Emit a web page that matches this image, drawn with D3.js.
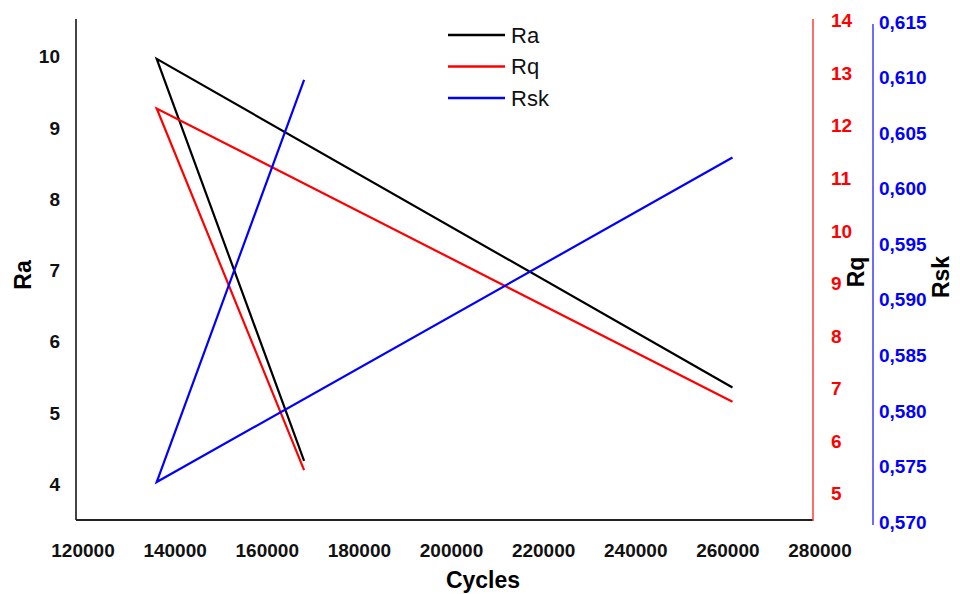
<!DOCTYPE html>
<html lang="en">
<head>
  <meta charset="UTF-8">
  <title>Ra, Rq, Rsk vs Cycles</title>
  <script src="https://d3js.org/d3.v7.min.js"></script>
  <style>
    body { margin: 0; background: #fff; }
    svg { font-family: "Liberation Sans", Arial, sans-serif; }
    .tick-lbl { font-weight: bold; font-size: 19px; }
    .ttl { font-weight: bold; font-size: 23px; }
    .leg { font-size: 22px; }
  </style>
</head>
<body>
  <svg width="960" height="594"></svg>

  <script>
    // data (points joined in this order)
    const cycles = [168000, 136000, 261000];
    const ra  = [4.33, 9.97, 5.36];
    const rq  = [5.45, 12.33, 6.75];
    const rsk = [0.6098, 0.5736, 0.6028];

    const xTicks   = [120000, 140000, 160000, 180000, 200000, 220000, 240000, 260000, 280000];
    const raTicks  = [4, 5, 6, 7, 8, 9, 10];
    const rqTicks  = [5, 6, 7, 8, 9, 10, 11, 12, 13, 14];
    const rskTicks = [0.570, 0.575, 0.580, 0.585, 0.590, 0.595, 0.600, 0.605, 0.610, 0.615];

    const series = [
      { name: 'Ra',  values: ra,  color: '#000000' },
      { name: 'Rq',  values: rq,  color: '#ff0000' },
      { name: 'Rsk', values: rsk, color: '#0000ff' }
    ];

    const svg = d3.select('svg');

    // plot frame
    const pLeft = 76, pRight = 813, pTop = 19, pBottom = 520;
    const blueX = 873;

    const x = d3.scaleLinear().domain([120000, 280000]).range([83, 820]);
    const yRa  = d3.scaleLinear().domain([3.5, 10.53]).range([pBottom, pTop]);
    const yRq  = d3.scaleLinear().domain([4.5, 14]).range([pBottom, pTop + 1.7]);
    const yRsk = d3.scaleLinear().domain([0.570, 0.615]).range([522, 22]);
    series[0].y = yRa; series[1].y = yRq; series[2].y = yRsk;

    const comma = d3.formatLocale({ decimal: ',', thousands: '.', grouping: [3], currency: ['', ''] });
    const fmt3 = comma.format('.3f');

    // axis lines
    svg.append('line').attr('x1', pLeft).attr('x2', pLeft).attr('y1', pTop).attr('y2', pBottom)
      .attr('stroke', '#444').attr('stroke-width', 2);
    svg.append('line').attr('x1', pLeft).attr('x2', pRight).attr('y1', pBottom).attr('y2', pBottom)
      .attr('stroke', '#222').attr('stroke-width', 2);
    svg.append('line').attr('x1', pRight).attr('x2', pRight).attr('y1', pTop).attr('y2', pBottom + 1)
      .attr('stroke', '#ff3b3b').attr('stroke-width', 1.5);
    svg.append('line').attr('x1', blueX).attr('x2', blueX).attr('y1', 24).attr('y2', 525)
      .attr('stroke', '#3b3bff').attr('stroke-width', 1.5);

    // tick labels
    svg.selectAll('.xl').data(xTicks).enter().append('text')
      .attr('class', 'tick-lbl').attr('x', d => x(d)).attr('y', 557)
      .attr('text-anchor', 'middle').attr('fill', '#111').text(d => d);

    svg.selectAll('.ral').data(raTicks).enter().append('text')
      .attr('class', 'tick-lbl').attr('x', 60).attr('y', d => yRa(d))
      .attr('dy', '0.35em').attr('text-anchor', 'end').attr('fill', '#111').text(d => d);

    svg.selectAll('.rql').data(rqTicks).enter().append('text')
      .attr('class', 'tick-lbl').attr('x', 831).attr('y', d => yRq(d))
      .attr('dy', '0.35em').attr('fill', '#ff0000').text(d => d);

    svg.selectAll('.rskl').data(rskTicks).enter().append('text')
      .attr('class', 'tick-lbl').attr('x', 879).attr('y', d => yRsk(d))
      .attr('dy', '0.35em').attr('fill', '#0000ff').text(d => fmt3(d));

    // axis titles
    svg.append('text').attr('class', 'ttl').attr('x', 483).attr('y', 588)
      .attr('text-anchor', 'middle').text('Cycles');
    svg.append('text').attr('class', 'ttl').attr('text-anchor', 'middle')
      .attr('transform', 'translate(31,275) rotate(-90)').text('Ra');
    svg.append('text').attr('class', 'ttl').attr('text-anchor', 'middle')
      .attr('transform', 'translate(864,272) rotate(-90)').text('Rq');
    svg.append('text').attr('class', 'ttl').attr('text-anchor', 'middle')
      .attr('transform', 'translate(949,277) rotate(-90)').text('Rsk');

    // lines
    series.forEach(s => {
      const line = d3.line().x((d, i) => x(cycles[i])).y(d => s.y(d));
      svg.append('path').datum(s.values).attr('d', line)
        .attr('fill', 'none').attr('stroke', s.color).attr('stroke-width', 2.2)
        .attr('stroke-linejoin', 'miter');
    });

    // legend
    const leg = svg.append('g');
    series.forEach((s, i) => {
      const yy = 35 + i * 31.5;
      leg.append('line').attr('x1', 448).attr('x2', 505).attr('y1', yy).attr('y2', yy)
        .attr('stroke', s.color).attr('stroke-width', 2.5);
      leg.append('text').attr('class', 'leg').attr('x', 511).attr('y', yy).attr('dy', '0.35em')
        .attr('fill', '#111').text(s.name);
    });
  </script>
</body>
</html>
